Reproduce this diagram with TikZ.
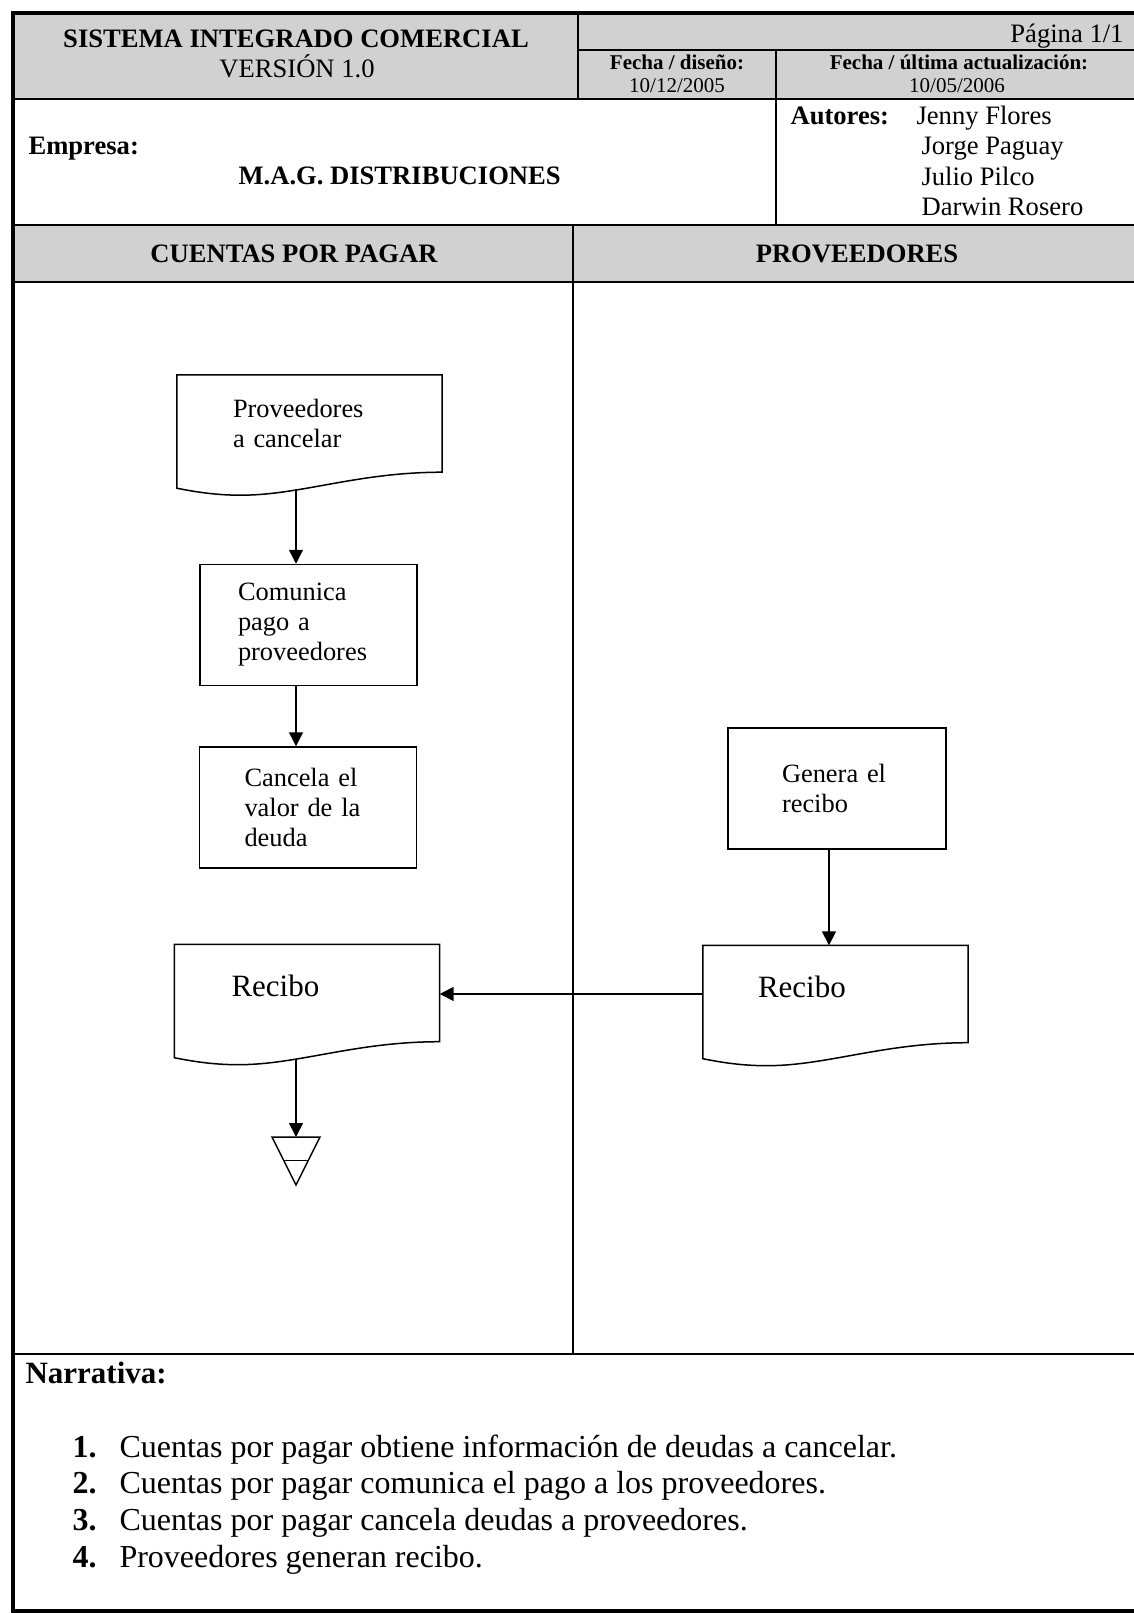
\documentclass[tikz,border=0pt]{standalone}
\usepackage{fontspec}
\setmainfont{Liberation Serif}
\usetikzlibrary{arrows.meta}
\definecolor{cabecera}{gray}{0.82}
\newcommand{\cajafont}{\fontsize{26.4}{30}\selectfont}
\newcommand{\recibofont}{\fontsize{31}{36}\selectfont}
\newcommand{\titfont}{\fontsize{26.6}{30}\selectfont}
\newcommand{\fechafont}{\fontsize{21}{24}\selectfont}
\newcommand{\narrfont}{\fontsize{32}{37}\selectfont}
% contorno de documento (borde inferior ondulado)
\newcommand{\docborde}[1]{%
  \draw[line width=1.5pt] (#1.south east) -- (#1.north east) -- (#1.north west)
    -- ([yshift=-16pt]#1.south west) .. controls +(20,4) and +(-24,0) ..
    ([xshift=64pt,yshift=-23pt]#1.south west) .. controls +(60,0) and +(-85,0) ..
    (#1.south east) -- cycle;}

\begin{document}
\begin{tikzpicture}[x=1pt,y=-1pt,
    proc/.style={draw,line width=1.5pt,minimum height=121pt,align=left,font=\cajafont},
    doc/.style={minimum height=97pt,align=left},
    flecha/.style={line width=1.5pt,-{Triangle[length=14pt,width=14pt]}}]
    \useasboundingbox (0,0) rectangle (1133,1613);
    % fondos grises
    \fill[cabecera] (13,13) rectangle (1142,99);
    \fill[cabecera] (13,225) rectangle (1142,282);
    % marco
    \draw[line width=4pt,line join=miter] (1142,13) -- (13,13) -- (13,1611) -- (1142,1611);
    \draw[line width=2pt] (13,99) -- (1142,99);
    \draw[line width=2pt] (13,225) -- (1142,225);
    \draw[line width=2pt] (13,282) -- (1142,282);
    \draw[line width=2pt] (13,1354) -- (1142,1354);
    \draw[line width=2pt] (578,13) -- (578,99);
    \draw[line width=2pt] (578,50) -- (1142,50);
    \draw[line width=1.5pt] (776,50) -- (776,225);
    \draw[line width=1.5pt] (573,225) -- (573,1354);
    % cabecera
    \node[font=\titfont\bfseries,anchor=base] (sistema) at (296,48) {SISTEMA INTEGRADO COMERCIAL};
    \node[font=\titfont,anchor=base] (version) at (297,78) {VERSIÓN 1.0};
    \node[font=\titfont,anchor=base east] (pagina) at (1127,43) {Página 1/1};
    \node[font=\fechafont\bfseries,anchor=base] (fdis) at (677,70) {Fecha / diseño:};
    \node[font=\fechafont,anchor=base] (fdisv) at (677,93) {10/12/2005};
    \node[font=\fechafont\bfseries,anchor=base] (fact) at (959,70) {Fecha / última actualización:};
    \node[font=\fechafont,anchor=base] (factv) at (957,93) {10/05/2006};
    \node[font=\titfont\bfseries,anchor=base west] (empresa) at (25,155) {Empresa:};
    \node[font=\titfont\bfseries,anchor=base west] (mag) at (235,185) {M.A.G. DISTRIBUCIONES};
    \node[font=\titfont\bfseries,anchor=base west] (autores) at (787,125) {Autores:};
    \node[font=\titfont,anchor=base west] (aut1) at (913,125) {Jenny Flores};
    \node[font=\titfont,anchor=base west] (aut2) at (918,155) {Jorge Paguay};
    \node[font=\titfont,anchor=base west] (aut3) at (918,186) {Julio Pilco};
    \node[font=\titfont,anchor=base west] (aut4) at (918,216) {Darwin Rosero};
    % carriles
    \node[font=\titfont\bfseries,anchor=base] (cxp) at (294,262) {CUENTAS POR PAGAR};
    \node[font=\titfont\bfseries,anchor=base] (prov) at (857,262) {PROVEEDORES};
    % flujo
    \node[doc,font=\cajafont,text width=153pt,inner xsep=56pt] (provcan) at (309.5,423.5) {Proveedores\\a cancelar};
    \docborde{provcan}
    \node[proc,text width=141pt,inner xsep=38pt] (comunica) at (308.5,625) {Comunica\\pago a\\proveedores};
    \node[proc,text width=127pt,inner xsep=45pt] (cancela) at (308,807.5) {Cancela el\\valor de la\\deuda};
    \node[proc,text width=110pt,inner xsep=54pt] (genera) at (837,788.5) {Genera el\\recibo};
    \node[doc,font=\recibofont,text depth=15pt,text width=151pt,inner xsep=57pt] (reciboA) at (307,993) {Recibo};
    \docborde{reciboA}
    \node[doc,font=\recibofont,text depth=15pt,text width=155pt,inner xsep=55pt] (reciboB) at (835.5,994) {Recibo};
    \docborde{reciboB}
    \coordinate (archivo) at (296,1137);
    \draw[line width=1.5pt] (archivo) +(-24,0) -- +(24,0) -- +(0,48) -- cycle;
    \draw[line width=1.5pt] (archivo) +(-12,23.5) -- +(12,23.5);
    \draw[flecha] ([xshift=-13.5pt,yshift=-17pt]provcan.south) -- ([xshift=-12.5pt]comunica.north);
    \draw[flecha] ([xshift=-12.5pt]comunica.south) -- ([xshift=-12pt]cancela.north);
    \draw[flecha] ([xshift=-8pt]genera.south) -- ([xshift=-6.5pt]reciboB.north);
    \draw[flecha] (reciboB.west) -- (reciboB.west -| reciboA.east);
    \draw[flecha] ([xshift=-11pt,yshift=-17pt]reciboA.south) -- (archivo);
    % narrativa
    \node[font=\fontsize{31}{36}\selectfont\bfseries,anchor=base west] (narrativa) at (22,1383) {Narrativa:};
    \node[font=\narrfont\bfseries,anchor=base west] (n1) at (69,1457) {1.};
    \node[font=\narrfont,anchor=base west] (p1) at (116,1457) {Cuentas por pagar obtiene información de deudas a cancelar.};
    \node[font=\narrfont\bfseries,anchor=base west] (n2) at (69,1493) {2.};
    \node[font=\narrfont,anchor=base west] (p2) at (116,1493) {Cuentas por pagar comunica el pago a los proveedores.};
    \node[font=\narrfont\bfseries,anchor=base west] (n3) at (69,1530) {3.};
    \node[font=\narrfont,anchor=base west] (p3) at (116,1530) {Cuentas por pagar cancela deudas a proveedores.};
    \node[font=\narrfont\bfseries,anchor=base west] (n4) at (69,1567) {4.};
    \node[font=\narrfont,anchor=base west] (p4) at (116,1567) {Proveedores generan recibo.};
\end{tikzpicture}
\end{document}
